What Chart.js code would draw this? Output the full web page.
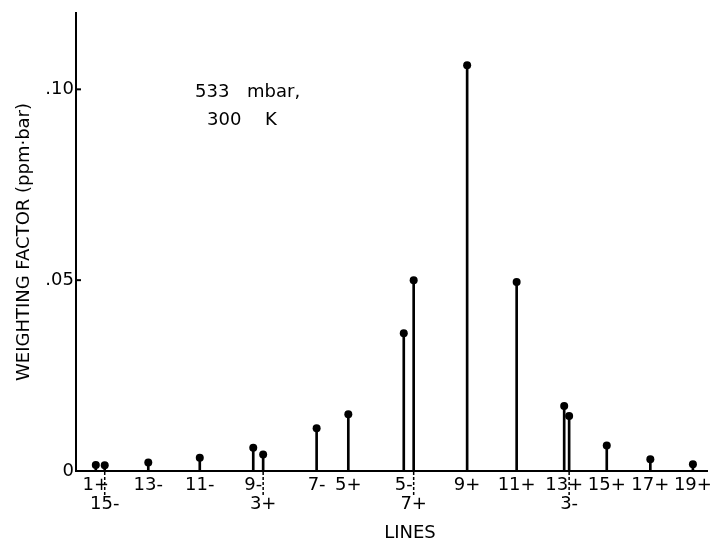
<!DOCTYPE html>
<html>
<head>
<meta charset="utf-8">
<script src="https://cdn.jsdelivr.net/npm/chart.js"></script>
<style>
html, body { margin: 0; padding: 0; background: #fff; }
#wrap { width: 716px; height: 544px; }
</style>
</head>
<body>
<div id="wrap"><canvas id="chart-lines" width="716" height="544"></canvas></div>
<script>
// spectral lines, left to right
const lineLabels = ['1+', '15-', '13-', '11-', '9-', '3+', '7-', '5+', '5-', '7+', '9+', '11+', '13+', '3-', '15+', '17+', '19+']
// labels that sit on the second row, joined to the axis by a dashed tick
const lowerLabels = ['15-', '3+', '7+', '3-']
// line position along the axis (arbitrary units, axis runs 0 .. 63.8)
const linePositions = [2.0, 2.9, 7.3, 12.5, 17.9, 18.9, 24.3, 27.5, 33.1, 34.1, 39.5, 44.5, 49.3, 49.8, 53.6, 58.0, 62.3]
// weighting factor (ppm·bar)
const weights = [0.0016, 0.0015, 0.0022, 0.0035, 0.0061, 0.0043, 0.0112, 0.0149, 0.0361, 0.0500, 0.1063, 0.0495, 0.0170, 0.0144, 0.0067, 0.0031, 0.0018]

const yTicks = [0, 0.05, 0.10]
const yTickLabels = ['0', '.05', '.10']

const FONT = '"DejaVu Sans", "Liberation Sans", sans-serif'

Chart.defaults.color = '#000'
Chart.defaults.font.family = FONT

const points = linePositions.map((x, i) => ({ x, y: weights[i] }))

const extras = {
    id: 'extras',
    afterDraw(chart) {
        const { ctx, scales: { x, y } } = chart
        ctx.save()
        ctx.strokeStyle = '#000'

        // short inward ticks on the y axis
        ctx.lineWidth = 2
        yTicks.forEach(v => {
            if (v === 0) return
            const py = y.getPixelForValue(v)
            ctx.beginPath()
            ctx.moveTo(x.left, py)
            ctx.lineTo(x.left + 5, py)
            ctx.stroke()
        })

        // dashed leaders down to the second-row labels
        ctx.lineWidth = 1.5
        ctx.setLineDash([3, 2])
        lineLabels.forEach((lab, i) => {
            if (!lowerLabels.includes(lab)) return
            const px = x.getPixelForValue(linePositions[i])
            ctx.beginPath()
            ctx.moveTo(px, y.bottom + 1)
            ctx.lineTo(px, y.bottom + 26)
            ctx.stroke()
        })
        ctx.setLineDash([])

        ctx.fillStyle = '#000'
        ctx.font = '18px ' + FONT
        ctx.textBaseline = 'middle'

        // axis name, sits a little right of centre in the original
        ctx.textAlign = 'center'
        ctx.fillText('LINES', 410, 533)

        // conditions note
        ctx.textAlign = 'left'
        ctx.fillText('533', 195, 92)
        ctx.fillText('mbar,', 247, 92)
        ctx.fillText('300', 207, 120)
        ctx.fillText('K', 265, 120)

        ctx.restore()
    }
}

const ctx = document.getElementById('chart-lines').getContext('2d')

const chart = new Chart(ctx, {
    type: 'bar',
    data: {
        datasets: [{
            type: 'scatter',
            label: 'tops',
            data: points,
            pointRadius: 4,
            pointBackgroundColor: '#000',
            pointBorderWidth: 0,
            order: 1
        }, {
            type: 'bar',
            label: 'stems',
            data: points,
            backgroundColor: '#000',
            borderWidth: 0,
            barThickness: 2,
            order: 2
        }]
    },
    plugins: [extras],
    options: {
        responsive: false,
        animation: false,
        layout: { padding: { top: 13, right: 2, bottom: 0, left: 0 } },
        plugins: {
            legend: { display: false },
            tooltip: { enabled: false }
        },
        scales: {
            x: {
                type: 'linear',
                offset: false,
                min: 0,
                max: 63.8,
                border: { color: '#000', width: 2 },
                grid: { display: false, drawTicks: false },
                afterBuildTicks: scale => {
                    scale.ticks = linePositions.map(v => ({ value: v }))
                },
                afterFit: scale => { scale.height = 73 },
                ticks: {
                    autoSkip: false,
                    maxRotation: 0,
                    padding: 4,
                    font: { size: 18, lineHeight: 1.1 },
                    callback: function (value, index) {
                        const lab = lineLabels[index]
                        return lowerLabels.includes(lab) ? ['', lab] : lab
                    }
                }
            },
            y: {
                min: 0,
                max: 0.12,
                border: { color: '#000', width: 2 },
                grid: { display: false, drawTicks: false },
                afterBuildTicks: scale => {
                    scale.ticks = yTicks.map(v => ({ value: v }))
                },
                afterFit: scale => { scale.width = 76 },
                ticks: {
                    padding: 2,
                    font: { size: 18 },
                    callback: function (value, index) {
                        return yTickLabels[index]
                    }
                },
                title: {
                    display: true,
                    text: 'WEIGHTING FACTOR (ppm·bar)',
                    font: { size: 18, lineHeight: 1.2 },
                    padding: { top: 14, bottom: 0 }
                }
            }
        }
    }
})
</script>
</body>
</html>
